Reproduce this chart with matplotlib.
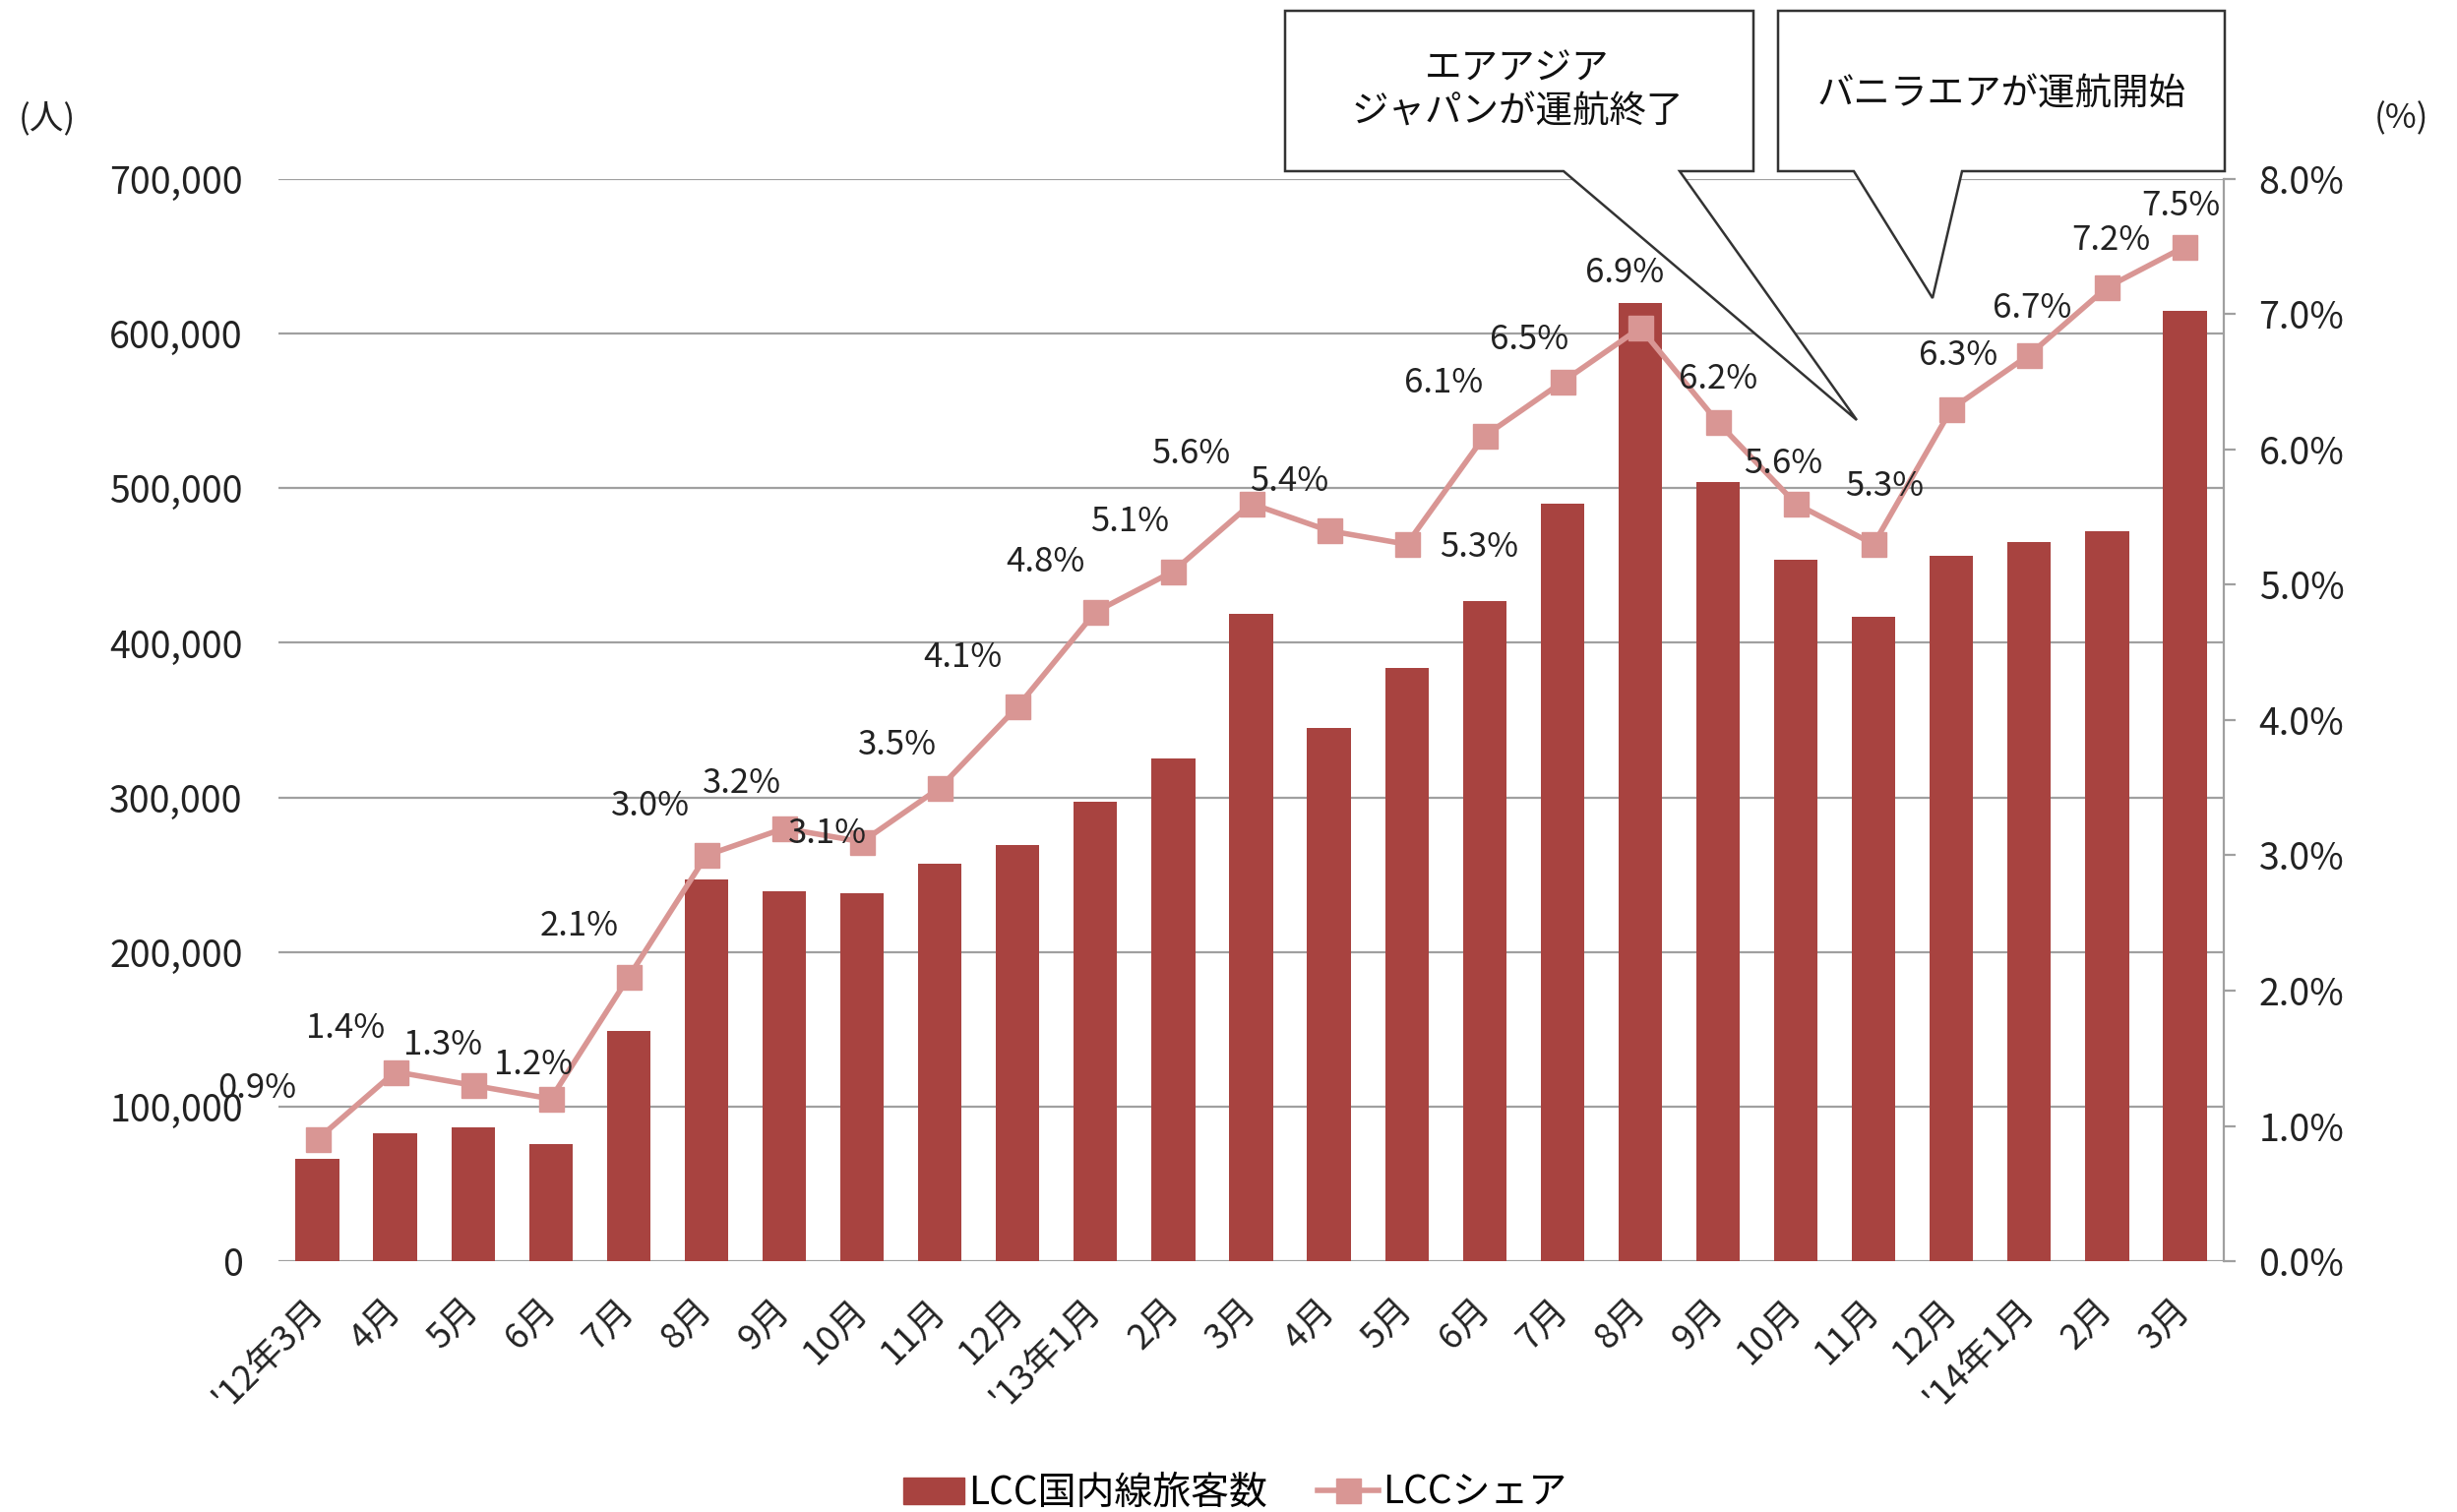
import matplotlib
matplotlib.use('Agg')
import matplotlib.pyplot as plt
from matplotlib.patches import Polygon
from matplotlib.lines import Line2D
from matplotlib.ticker import FuncFormatter, MultipleLocator

plt.rcParams['font.family'] = ['Noto Sans CJK JP', 'DejaVu Sans']

# data
months = ["'12年3月", '4月', '5月', '6月', '7月', '8月', '9月', '10月', '11月', '12月',
          "'13年1月", '2月', '3月', '4月', '5月', '6月', '7月', '8月', '9月', '10月',
          '11月', '12月', "'14年1月", '2月', '3月']
passengers = [66000, 83000, 86500, 76000, 149000, 247000, 239000, 238000, 257000, 269000,
              297000, 325000, 419000, 345000, 384000, 427000, 490000, 620000, 504000, 454000,
              417000, 456000, 465000, 472000, 615000]
share = [0.9, 1.4, 1.3, 1.2, 2.1, 3.0, 3.2, 3.1, 3.5, 4.1,
         4.8, 5.1, 5.6, 5.4, 5.3, 6.1, 6.5, 6.9, 6.2, 5.6,
         5.3, 6.3, 6.7, 7.2, 7.5]
bar_name = 'LCC国内線旅客数'
line_name = 'LCCシェア'
note1 = 'エアアジア\nジャパンが運航終了'
note2 = 'バニラエアが運航開始'

# label offsets (points) relative to each marker
label_offsets = [(-44, 37), (-36, 32), (-22, 29), (-13, 25), (-36, 37), (-41, 36), (-31, 33),
                 (-25, 6), (-31, 31), (-40, 36), (-37, 36), (-32, 36), (-44, 36), (-29, 36),
                 (53, -2), (-30, 39), (-24, 31), (-11, 40), (0, 32), (-9, 29), (8, 42),
                 (5, 39), (2, 34), (3, 34), (-3, 30)]

bar_color = '#A84340'
line_color = '#D99694'
grid_color = '#A0A0A0'
txt = '#222222'
fs = 25

W, H = 2497, 1537
fig = plt.figure(figsize=(W / 100, H / 100), dpi=100)
ax = fig.add_axes([283 / W, 1 - 1282 / H, (2260 - 283) / W, (1282 - 182) / H])
ax2 = ax.twinx()

x = list(range(len(months)))
ax.bar(x, passengers, width=0.56, color=bar_color, zorder=2)
ax.set_xlim(-0.5, len(months) - 0.5)
ax.set_ylim(0, 700000)
ax.yaxis.set_major_locator(MultipleLocator(100000))
ax.yaxis.set_major_formatter(FuncFormatter(lambda v, p: f'{int(v):,}'))
ax.grid(axis='y', color=grid_color, lw=1.6, zorder=0)
ax.set_axisbelow(True)
for s in ax.spines.values():
    s.set_visible(False)
ax.tick_params(axis='y', length=0, pad=26, labelsize=27, colors=txt)
ax.tick_params(axis='x', length=0, pad=32, labelsize=26, colors=txt)
ax.set_xticks(x)
ax.set_xticklabels(months, rotation=45, ha='right', va='center', rotation_mode='anchor')

ax2.plot(x, share, color=line_color, lw=4, marker='s', markersize=18, zorder=3)
ax2.set_ylim(0, 8)
ax2.yaxis.set_major_locator(MultipleLocator(1))
ax2.yaxis.set_major_formatter(FuncFormatter(lambda v, p: f'{v:.1f}%'))
for name, s in ax2.spines.items():
    s.set_visible(name == 'right')
ax2.spines['right'].set_color(grid_color)
ax2.spines['right'].set_linewidth(1.6)
ax2.tick_params(axis='y', length=8.6, width=1.6, color=grid_color, pad=17,
                labelsize=27, labelcolor=txt)

for i, v in enumerate(share):
    ax2.annotate(f'{v:.1f}%', (i, v), xytext=label_offsets[i], textcoords='offset points',
                 ha='center', va='center', fontsize=fs, color=txt, zorder=4)

# unit labels
fig.text(48 / W, 1 - 121 / H, '(人)', ha='center', va='center', fontsize=fs, color=txt)
fig.text(2440 / W, 1 - 121 / H, '(%)', ha='center', va='center', fontsize=fs, color=txt)

# callouts
def callout(pts, text, tx, ty):
    poly = Polygon([(px / W, 1 - py / H) for px, py in pts], closed=True,
                   transform=fig.transFigure, facecolor='white', edgecolor='#333333',
                   lw=1.8, zorder=10)
    fig.add_artist(poly)
    fig.text(tx / W, 1 - ty / H, text, ha='center', va='center', fontsize=27,
             color='#111111', linespacing=1.15, zorder=11)

callout([(1306, 11), (1782, 11), (1782, 174), (1707, 174), (1887, 427), (1589, 174), (1306, 174)],
        note1, 1542, 92)
callout([(1807, 11), (2261, 11), (2261, 174), (1994, 174), (1964, 303), (1884, 174), (1807, 174)],
        note2, 2034, 96)

handles = [plt.Rectangle((0, 0), 1, 1, color=bar_color),
           Line2D([], [], color=line_color, lw=4, marker='s', markersize=18)]
fig.legend(handles, [bar_name, line_name], loc='center', bbox_to_anchor=(1255 / W, 1 - 1518 / H),
           ncol=2, frameon=False, fontsize=28, handlelength=1.6, handletextpad=0.1,
           columnspacing=1.3)

fig.savefig('out.png', dpi=100, facecolor='white')
